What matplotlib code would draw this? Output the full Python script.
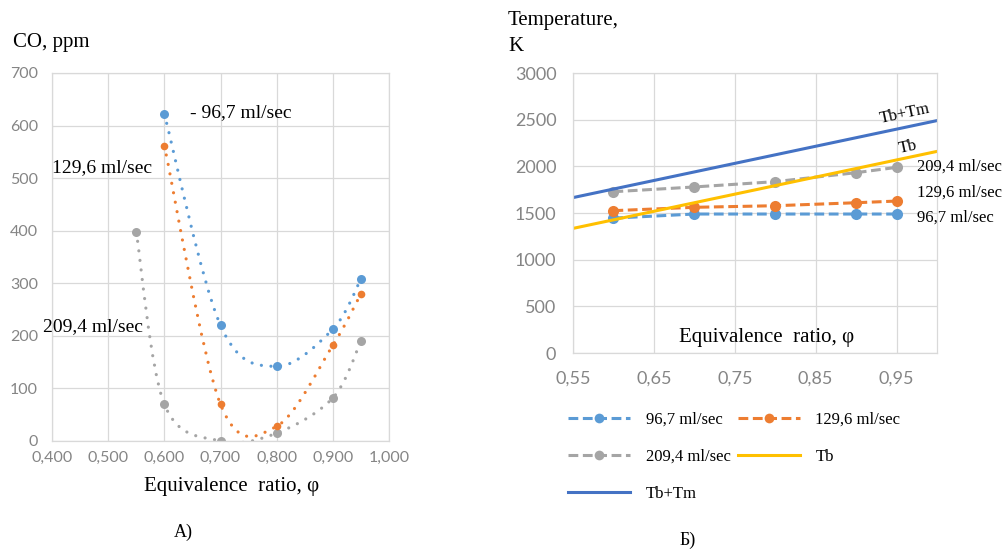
import numpy as np
import matplotlib
matplotlib.use("Agg")
import matplotlib.pyplot as plt
from matplotlib.path import Path
from matplotlib.patches import PathPatch

# Left chart: CO emission vs equivalence ratio
CO_PHI_967 = [0.60, 0.70, 0.80, 0.90, 0.95]
CO_967 = [622, 220, 142, 213, 308]
CO_PHI_1296 = [0.60, 0.70, 0.80, 0.90, 0.95]
CO_1296 = [562, 70, 28, 182, 280]
CO_PHI_2094 = [0.55, 0.60, 0.70, 0.80, 0.90, 0.95]
CO_2094 = [398, 70, 0, 15, 82, 190]
CO_XTICKS = [0.4, 0.5, 0.6, 0.7, 0.8, 0.9, 1.0]
CO_XLABELS = ["0,400", "0,500", "0,600", "0,700", "0,800", "0,900", "1,000"]
CO_YTICKS = [0, 100, 200, 300, 400, 500, 600, 700]

# Right chart: temperatures
T_PHI = [0.60, 0.70, 0.80, 0.90, 0.95]
T_967 = [1445, 1489, 1489, 1489, 1489]
T_1296 = [1525, 1561, 1578, 1610, 1628]
T_2094 = [1728, 1779, 1836, 1932, 1989]
TB_PHI = [0.55, 1.00]
TB = [1335, 2160]
TBTM = [1665, 2490]
T_XTICKS = [0.55, 0.65, 0.75, 0.85, 0.95]
T_XLABELS = ["0,55", "0,65", "0,75", "0,85", "0,95"]
T_YTICKS = [0, 500, 1000, 1500, 2000, 2500, 3000]

BLUE = '#5B9BD5'
ORANGE = '#ED7D31'
GRAY = '#A5A5A5'
GOLD = '#FFC000'
DBLUE = '#4472C4'
GRID = '#D9D9D9'
TICK = '#858585'
SERIF = 'Liberation Serif'
SANS = 'Lato'


# Excel-like smoothed line as a chain of cubic Bezier segments
def SmoothPath(xs, ys):
    pts = np.column_stack([xs, ys]).astype(float)
    n = len(pts)
    verts = [pts[0]]
    codes = [Path.MOVETO]
    for i in range(n - 1):
        p0 = pts[max(i - 1, 0)]
        p1 = pts[i]
        p2 = pts[i + 1]
        p3 = pts[min(i + 2, n - 1)]
        verts += [p1 + (p2 - p0) / 6, p2 - (p3 - p1) / 6, p2]
        codes += [Path.CURVE4] * 3
    return Path(verts, codes)


def StyleAxes(ax):
    ax.grid(True, color=GRID, lw=0.9)
    ax.set_axisbelow(True)
    for s in ax.spines.values():
        s.set_color(GRID)
        s.set_linewidth(0.9)
    ax.tick_params(length=0, colors=TICK)
    for lab in ax.get_xticklabels() + ax.get_yticklabels():
        lab.set_fontfamily(SANS)


def PlotCO(fig):
    ax = fig.add_axes([52 / 1006, 1 - 441 / 549, 337 / 1006, 368 / 549])
    for xs, ys, c, ms in [(CO_PHI_2094, CO_2094, GRAY, 6.5),
                          (CO_PHI_1296, CO_1296, ORANGE, 5.5),
                          (CO_PHI_967, CO_967, BLUE, 6.5)]:
        ax.add_patch(PathPatch(SmoothPath(xs, ys), fill=False, edgecolor=c,
                               lw=2.3, linestyle=(0, (0.01, 3.0)),
                               capstyle='round'))
        ax.plot(xs, ys, 'o', color=c, ms=ms, mec='none')
    ax.set_xlim(0.4, 1.0)
    ax.set_ylim(0, 700)
    ax.set_xticks(CO_XTICKS, CO_XLABELS)
    ax.set_yticks(CO_YTICKS)
    ax.tick_params(axis='x', pad=7, labelsize=11.5)
    ax.tick_params(axis='y', pad=10, labelsize=11.5)
    StyleAxes(ax)
    ax.text(0.646, 624, "- 96,7 ml/sec", family=SERIF, fontsize=14, va='center')
    ax.text(0.0, 0.742, "129,6 ml/sec", family=SERIF, fontsize=14, va='center',
            transform=ax.transAxes)
    ax.text(-0.027, 0.31, "209,4 ml/sec", family=SERIF, fontsize=14, va='center',
            transform=ax.transAxes)


def PlotTemperature(fig):
    ax = fig.add_axes([573 / 1006, 1 - 353 / 549, 364 / 1006, 280 / 549])
    dash = (0, (3.2, 1.5))
    h967, = ax.plot(T_PHI, T_967, ls=dash, lw=2.2, color=BLUE, marker='o',
                    ms=8, mec='none', label="96,7 ml/sec")
    h1296, = ax.plot(T_PHI, T_1296, ls=dash, lw=2.2, color=ORANGE, marker='o',
                     ms=8, mec='none', label="129,6 ml/sec")
    h2094, = ax.plot(T_PHI, T_2094, ls=dash, lw=2.2, color=GRAY, marker='o',
                     ms=8, mec='none', label="209,4 ml/sec")
    htb, = ax.plot(TB_PHI, TB, color=GOLD, lw=2.2, label="Tb")
    htm, = ax.plot(TB_PHI, TBTM, color=DBLUE, lw=2.2, label="Tb+Tm")
    ax.set_xlim(0.55, 1.0)
    ax.set_ylim(0, 3000)
    ax.set_xticks(T_XTICKS, T_XLABELS)
    ax.set_yticks(T_YTICKS)
    ax.tick_params(axis='x', pad=13, labelsize=13)
    ax.tick_params(axis='y', pad=12, labelsize=13)
    StyleAxes(ax)
    ax.text(0.533, 0.054, "Equivalence  ratio, φ", family=SERIF, fontsize=15,
            ha='center', va='center', transform=ax.transAxes)
    ax.text(0.96, 2565, "Tb+Tm", family=SERIF, fontsize=12, ha='center',
            va='center', rotation=12)
    ax.text(0.964, 2207, "Tb", family=SERIF, fontsize=12, ha='center',
            va='center', rotation=12)
    for y, s in [(1993, "209,4 ml/sec"), (1714, "129,6 ml/sec"), (1446, "96,7 ml/sec")]:
        ax.text(0.975, y, s, family=SERIF, fontsize=12, va='center', clip_on=False)
    handles = [h967, h2094, htm, h1296, htb]
    leg = fig.legend(handles=handles, ncol=2, loc='upper left',
                     bbox_to_anchor=(553 / 1006, 1 - 397 / 549), frameon=False,
                     prop={'family': SERIF, 'size': 12}, handlelength=3.7,
                     numpoints=1, labelspacing=1.25, columnspacing=0.45,
                     handletextpad=0.95)
    for h in leg.legend_handles:
        h.set_markersize(7)


if __name__ == "__main__":
    fig = plt.figure(figsize=(10.06, 5.49), dpi=100)
    PlotCO(fig)
    PlotTemperature(fig)
    fig.text(13 / 1006, 1 - 43 / 549, "CO, ppm", family=SERIF, fontsize=15, va='center')
    fig.text(232 / 1006, 1 - 487 / 549, "Equivalence  ratio, φ", family=SERIF,
             fontsize=15, ha='center', va='center')
    fig.text(183 / 1006, 1 - 532 / 549, "A)", family=SERIF, fontsize=13,
             ha='center', va='center')
    fig.text(508 / 1006, 1 - 20 / 549, "Temperature,", family=SERIF, fontsize=15,
             va='center')
    fig.text(508 / 1006, 1 - 47 / 549, "K", family=SERIF, fontsize=15, va='center')
    fig.text(688 / 1006, 1 - 540 / 549, "Б)", family=SERIF, fontsize=13,
             ha='center', va='center')
    fig.savefig("out.png", dpi=100)
